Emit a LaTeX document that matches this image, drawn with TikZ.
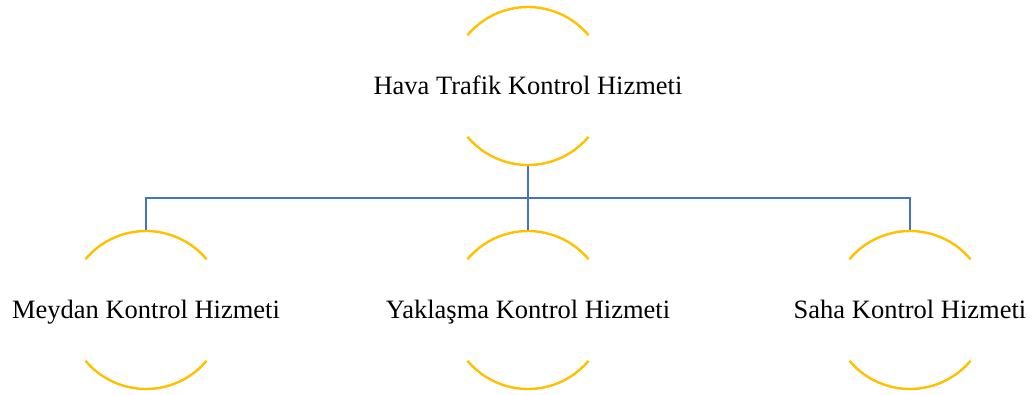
\documentclass[tikz,border=0pt]{standalone}
\usepackage{fontspec}
\setmainfont{Liberation Serif}
\usepackage{tikz}
\usetikzlibrary{positioning}
\usepackage{xcolor}
\definecolor{ringgold}{HTML}{FFC000}
\definecolor{linkblue}{HTML}{4472C4}
\tikzstyle{unit} = [rectangle, minimum height=158pt, inner sep=0pt, text height=20pt, text depth=4pt, text centered, font=\fontsize{26.5pt}{30pt}\selectfont]
\tikzstyle{ring} = [draw=ringgold, line width=2.4pt]
\tikzstyle{link} = [draw=linkblue, line width=2.2pt]

\begin{document}
\begin{tikzpicture}[x=1pt, y=1pt, node distance=224pt]
\useasboundingbox (0,0) rectangle (1035,-394);

% Nodes
\node (hava) [unit] at (528,-86) {Hava Trafik Kontrol Hizmeti};
\node (yaklasma) [unit, below of=hava] {Yaklaşma Kontrol Hizmeti};
\node (meydan) [unit, left of=yaklasma, xshift=-158pt] {Meydan Kontrol Hizmeti};
\node (saha) [unit, right of=yaklasma, xshift=158pt] {Saha Kontrol Hizmeti};
\coordinate (split) at ([yshift=-33pt]hava.south);

% Connectors
\draw [link] (hava.south) -- (split);
\draw [link] (split) -| (meydan.north);
\draw [link] (split) -- (yaklasma.north);
\draw [link] (split) -| (saha.north);

% Arcs above and below each label
\foreach \n in {hava, meydan, yaklasma, saha} {
  \draw [ring] ([shift={(40:79)}]\n.center) arc [start angle=40, end angle=140, radius=79];
  \draw [ring] ([shift={(220:79)}]\n.center) arc [start angle=220, end angle=320, radius=79];
}

\end{tikzpicture}
\end{document}
